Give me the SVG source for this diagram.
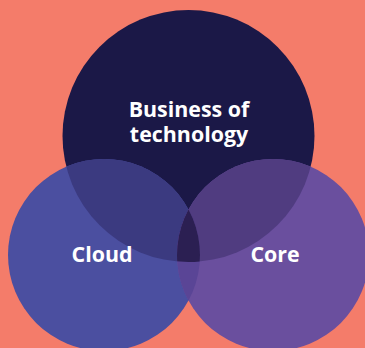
<svg xmlns="http://www.w3.org/2000/svg" width="365" height="348" viewBox="0 0 365 348">
<style>
.lbl{font-family:"Open Sans","Noto Sans",sans-serif;font-weight:700;font-size:21.4px;fill:#ffffff;text-anchor:middle}
</style>
<defs>
<clipPath id="cBig"><circle cx="188.5" cy="136" r="126"/></clipPath>
<clipPath id="cLeft"><circle cx="104" cy="255" r="96"/></clipPath>
<clipPath id="cRight"><circle cx="273" cy="255" r="96"/></clipPath>
</defs>
<rect width="365" height="348" fill="#F47C6A"/>
<g id="node-business">
<circle cx="188.5" cy="136" r="126" fill="#1B1847"/>
</g>
<g id="node-cloud">
<circle cx="104" cy="255" r="96" fill="#4B4FA0"/>
<circle cx="104" cy="255" r="96" fill="#3B3A80" clip-path="url(#cBig)"/>
</g>
<g id="node-core">
<circle cx="273" cy="255" r="96" fill="#6A4F9E"/>
<circle cx="273" cy="255" r="96" fill="#503C80" clip-path="url(#cBig)"/>
<g clip-path="url(#cLeft)">
<circle cx="273" cy="255" r="96" fill="#5A4596"/>
<circle cx="273" cy="255" r="96" fill="#2B1F52" clip-path="url(#cBig)"/>
</g>
</g>
<g id="labels">
<text class="lbl" x="189" y="117">Business of</text>
<text class="lbl" x="189" y="142">technology</text>
<text class="lbl" x="102" y="262">Cloud</text>
<text class="lbl" x="275" y="262">Core</text>
</g>
</svg>
